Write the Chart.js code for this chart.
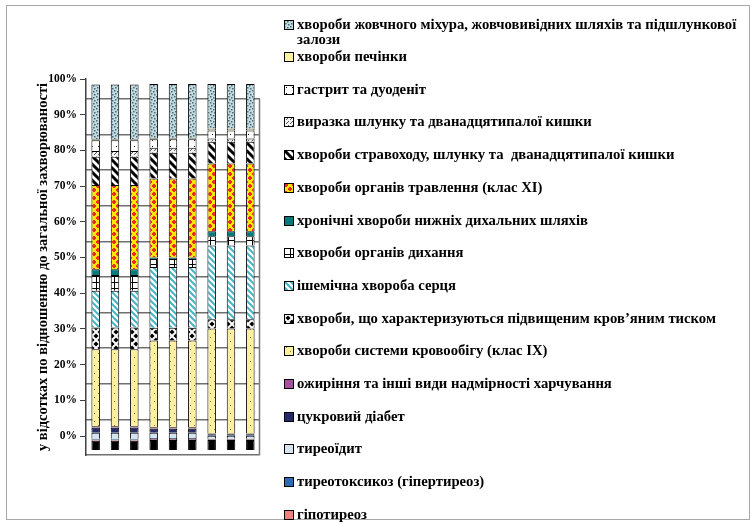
<!DOCTYPE html>
<html>
<head>
<meta charset="utf-8">
<script src="https://cdn.jsdelivr.net/npm/chart.js@4.4.0/dist/chart.umd.min.js"></script>
<style>
  body { margin: 0; background: #fff; }
  #wrap { position: relative; width: 752px; height: 522px; overflow: hidden; }
  #frame { position: absolute; left: 6px; top: 5px; width: 744px; height: 515px; border: 1px solid #a8a8a8; box-sizing: border-box; }
  #chart { position: absolute; left: 0; top: 0; }
  #legend { position: absolute; left: 284px; top: 0; font: bold 14.7px "Liberation Serif", "Times New Roman", serif; color: #000; }
  .item { position: absolute; left: 0; white-space: pre; line-height: 15px; }
  .item canvas { position: absolute; left: 0; top: 3px; }
  .item span { display: block; padding-left: 13px; }
</style>
</head>
<body>
<div id="wrap">
  <div id="frame"></div>
  <canvas id="chart" width="752" height="522"></canvas>
  <div id="legend"></div>
</div>
<script>
// 9 columns, three groups of three identical bars
const categories = ['1', '2', '3', '4', '5', '6', '7', '8', '9'];

// values in % of all diseases, bottom of the stack first
const other          = [2.5, 2.5, 2.5, 2.7, 2.7, 2.7, 2.7, 2.7, 2.7];
const hypothyroid    = [0.3, 0.3, 0.3, 0.3, 0.3, 0.3, 0.2, 0.2, 0.2];
const thyrotoxicosis = [0.3, 0.3, 0.3, 0.3, 0.3, 0.3, 0.2, 0.2, 0.2];
const thyroiditis    = [1.6, 1.6, 1.6, 1.4, 1.4, 1.4, 0.8, 0.8, 0.8];
const diabetes       = [1.4, 1.4, 1.4, 1.1, 1.1, 1.1, 0.4, 0.4, 0.4];
const obesity        = [0.4, 0.4, 0.4, 0.4, 0.4, 0.4, 0.2, 0.2, 0.2];
const circulatory    = [21.0, 21.0, 21.0, 23.7, 23.7, 23.7, 28.7, 28.7, 28.7];
const hypertension   = [6.0, 6.0, 6.0, 3.5, 3.5, 3.5, 2.5, 2.5, 2.5];
const ischemic       = [10.0, 10.0, 10.0, 16.6, 16.6, 16.6, 20.2, 20.2, 20.2];
const respiratory    = [4.3, 4.3, 4.3, 2.2, 2.2, 2.2, 2.5, 2.5, 2.5];
const chronicLower   = [1.6, 1.6, 1.6, 0.4, 0.4, 0.4, 1.4, 1.4, 1.4];
const digestive      = [23.0, 23.0, 23.0, 21.6, 21.6, 21.6, 18.5, 18.5, 18.5];
const esophagus      = [7.7, 7.7, 7.7, 7.0, 7.0, 7.0, 5.9, 5.9, 5.9];
const ulcer          = [1.6, 1.6, 1.6, 1.4, 1.4, 1.4, 0.9, 0.9, 0.9];
const gastritis      = [2.9, 2.9, 2.9, 2.3, 2.3, 2.3, 2.2, 2.2, 2.2];
const liver          = [0.3, 0.3, 0.3, 0.3, 0.3, 0.3, 0.5, 0.5, 0.5];
const gallbladder    = [15.0, 15.0, 15.0, 14.8, 14.8, 14.8, 12.2, 12.2, 12.2];

const yTicks = [0, 10, 20, 30, 40, 50, 60, 70, 80, 90, 100];
const yTitle = 'у відсотках по відношенню до загальної захворюваності';

const series = [other, hypothyroid, thyrotoxicosis, thyroiditis, diabetes, obesity,
  circulatory, hypertension, ischemic, respiratory, chronicLower, digestive,
  esophagus, ulcer, gastritis, liver, gallbladder];

const names = [
  '',
  'гіпотиреоз',
  'тиреотоксикоз (гіпертиреоз)',
  'тиреоїдит',
  'цукровий діабет',
  'ожиріння та інші види надмірності харчування',
  'хвороби системи кровообігу (клас IX)',
  'хвороби, що характеризуються підвищеним кров’яним тиском',
  'ішемічна хвороба серця',
  'хвороби органів дихання',
  'хронічні хвороби нижніх дихальних шляхів',
  'хвороби органів травлення (клас XI)',
  'хвороби стравоходу, шлунку та  дванадцятипалої кишки',
  'виразка шлунку та дванадцятипалої кишки',
  'гастрит та дуоденіт',
  'хвороби печінки',
  ['хвороби жовчного міхура, жовчовивідних шляхів та підшлункової', 'залози']
];

// --- fill tiles (Excel-ish patterns) ---
function tile(w, h, bg, draw) {
  const c = document.createElement('canvas');
  c.width = w; c.height = h;
  const g = c.getContext('2d');
  g.fillStyle = bg;
  g.fillRect(0, 0, w, h);
  if (draw) draw(g);
  return c;
}
function dots(pts, color, s) {
  return g => { g.fillStyle = color; pts.forEach(p => g.fillRect(p[0], p[1], s, s)); };
}
function diag(color, lw, n) {
  return g => {
    g.strokeStyle = color; g.lineWidth = lw;
    for (let k = -1; k <= 1; k++) {
      g.beginPath(); g.moveTo(-1, k * n - 1); g.lineTo(n + 1, n + k * n + 1); g.stroke();
    }
  };
}
function diamonds(g) {
  g.fillStyle = '#000';
  [[4, 4], [0, 0], [8, 0], [0, 8], [8, 8]].forEach(([x, y]) => {
    g.beginPath();
    g.moveTo(x, y - 2.6); g.lineTo(x + 2.6, y); g.lineTo(x, y + 2.6); g.lineTo(x - 2.6, y);
    g.closePath(); g.fill();
  });
}
function crosses(g) {
  g.fillStyle = '#ee2a1a';
  [[2, 2], [6, 6]].forEach(([x, y]) => {
    g.fillRect(x - 1, y - 2, 2, 4);
    g.fillRect(x - 2, y - 1, 4, 2);
  });
}
function grid(g) {
  g.fillStyle = '#000';
  g.fillRect(0, 0, 6, 1);
  g.fillRect(0, 0, 1, 6);
}

const tiles = [
  tile(1, 1, '#000000'),
  tile(1, 1, '#f08080'),
  tile(1, 1, '#2e6ab4'),
  tile(1, 1, '#d4e4f0'),
  tile(1, 1, '#232a68'),
  tile(1, 1, '#a5519d'),
  tile(8, 8, '#fbf09e', dots([[2, 1], [6, 5]], '#a0603c', 1)),
  tile(8, 8, '#ffffff', diamonds),
  tile(6, 6, '#ffffff', diag('#45b5c5', 2, 6)),
  tile(6, 6, '#ffffff', grid),
  tile(1, 1, '#007a7a'),
  tile(8, 8, '#ffe600', crosses),
  tile(8, 8, '#ffffff', diag('#000000', 3, 8)),
  tile(4, 4, '#f4f4f4', dots([[0, 0], [2, 2], [3, 1]], '#555555', 1)),
  tile(6, 6, '#ffffff', dots([[2, 2]], '#000000', 1)),
  tile(1, 1, '#fff1a6'),
  tile(6, 6, '#c2dde2', dots([[0, 0], [3, 1], [1, 3], [4, 4]], '#4a6470', 1.5))
];

const ctx = document.getElementById('chart').getContext('2d');

const datasets = series.map((data, i) => ({
  label: Array.isArray(names[i]) ? names[i].join(' ') : names[i],
  data: data,
  yAxisID: 'yb',
  backgroundColor: ctx.createPattern(tiles[i], 'repeat'),
  borderColor: '#000',
  borderWidth: 1,
  barPercentage: 0.44,
  categoryPercentage: 1
}));

// right edge of the back wall
const wallEdge = {
  id: 'wallEdge',
  beforeDatasetsDraw(chart) {
    const s = chart.scales.wall;
    const x = chart.chartArea.right - 0.5;
    const c = chart.ctx;
    c.save();
    c.strokeStyle = '#7a7a7a';
    c.lineWidth = 1.5;
    c.beginPath();
    c.moveTo(x, s.getPixelForValue(100));
    c.lineTo(x, s.getPixelForValue(0));
    c.stroke();
    c.restore();
  }
};

new Chart(ctx, {
  type: 'bar',
  data: { labels: categories, datasets: datasets },
  options: {
    responsive: false,
    animation: false,
    layout: { padding: { left: 6, top: 79, bottom: 67, right: 492 } },
    plugins: { legend: { display: false }, tooltip: { enabled: false } },
    scales: {
      x: { display: false, stacked: true },
      yb: { display: false, stacked: true, min: -1.37, max: 101.37 },
      wall: {
        position: 'right',
        min: 0, max: 105.6,
        afterBuildTicks: s => { s.ticks = yTicks.map(v => ({ value: v })); },
        afterFit: s => { s.width = 0; },
        ticks: { display: false },
        border: { display: false },
        grid: { color: '#707070', lineWidth: 1.4, drawTicks: false }
      },
      y: {
        position: 'left',
        min: -5.32, max: 100,
        afterBuildTicks: s => { s.ticks = yTicks.map(v => ({ value: v })); },
        afterFit: s => { s.width = 80; },
        ticks: {
          callback: v => v + '%',
          color: '#000',
          padding: 3,
          font: { family: 'Liberation Serif', size: 11.5, weight: 'bold' }
        },
        grid: { drawOnChartArea: false, tickLength: 6, color: '#404040' },
        border: { display: true, color: '#404040', width: 1.5 },
        title: {
          display: true,
          text: yTitle,
          color: '#000',
          padding: { top: 29, bottom: 0 },
          font: { family: 'Liberation Serif', size: 14.5, weight: 'bold' }
        }
      }
    }
  },
  plugins: [wallEdge]
});

// legend: top entry is the last series
const legendBox = document.getElementById('legend');
let itemY = 17;
for (let i = series.length - 1; i >= 1; i--) {
  const item = document.createElement('div');
  item.className = 'item';
  item.style.top = itemY + 'px';
  const sw = document.createElement('canvas');
  sw.width = 10; sw.height = 10;
  const g = sw.getContext('2d');
  g.fillStyle = g.createPattern(tiles[i], 'repeat');
  g.fillRect(0, 0, 10, 10);
  g.strokeStyle = '#000';
  g.lineWidth = 1;
  g.strokeRect(0.5, 0.5, 9, 9);
  item.appendChild(sw);
  const txt = document.createElement('span');
  const lines = Array.isArray(names[i]) ? names[i] : [names[i]];
  txt.textContent = lines.join('\n');
  item.appendChild(txt);
  legendBox.appendChild(item);
  itemY += i === series.length - 1 ? 32 : 32.7;
}
</script>
</body>
</html>
